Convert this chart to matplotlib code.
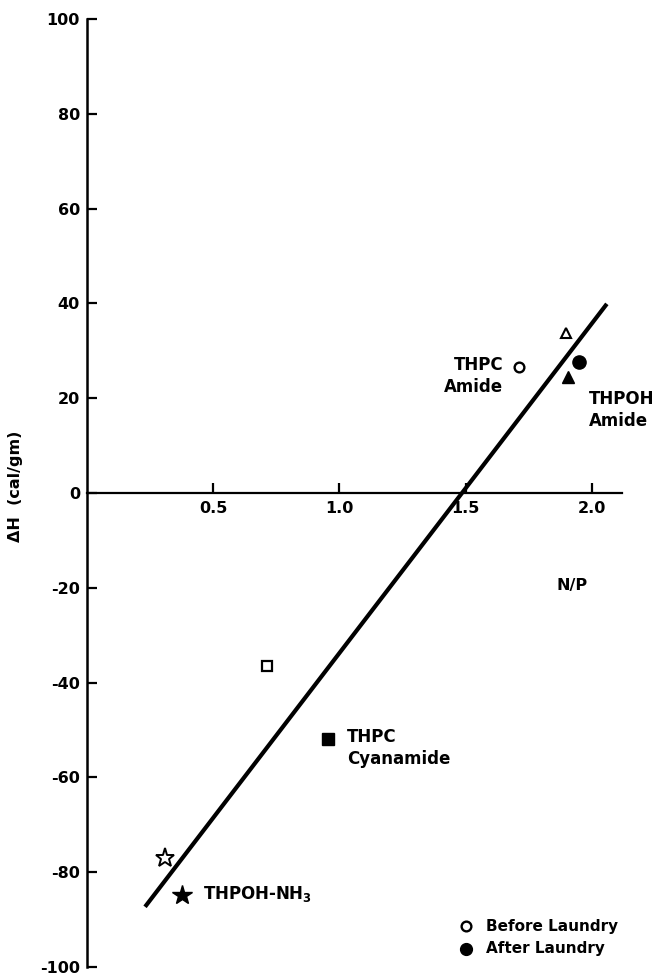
import matplotlib.pyplot as plt

# N/P ratio vs heat of reaction
open_circle_x = [1.71]
open_circle_y = [26.6]
filled_circle_x = [1.95]
filled_circle_y = [27.6]
open_tri_x = [1.90]
open_tri_y = [33.8]
filled_tri_x = [1.905]
filled_tri_y = [24.5]
open_sq_x = [0.714]
open_sq_y = [-36.5]
filled_sq_x = [0.956]
filled_sq_y = [-51.9]
open_star_x = [0.31]
open_star_y = [-77.0]
filled_star_x = [0.377]
filled_star_y = [-84.8]

# regression line end points
line_x = [0.23, 2.06]
line_y = [-87.3, 39.9]

xticks = [0.5, 1.0, 1.5, 2.0]
xticklabels = ["0.5", "1.0", "1.5", "2.0"]
yticks = [100, 80, 60, 40, 20, 0, -20, -40, -60, -80, -100]
yticklabels = ["100", "80", "60", "40", "20", "0", "-20", "-40", "-60", "-80", "-100"]

plt.rcParams['font.family'] = ['DejaVu Sans']
plt.rcParams['font.weight'] = 'bold'

W, H = 655, 976
fig = plt.figure(figsize=(W / 100, H / 100), dpi=100)
ax = fig.add_axes([87 / W, (H - 967) / H, (622 - 87) / W, (967 - 19) / H])
ax.set_xlim(0, 2.12)
ax.set_ylim(-100, 100)

for s in ['top', 'right']:
    ax.spines[s].set_visible(False)
ax.spines['bottom'].set_position(('data', 0))
ax.spines['left'].set_position(('data', 0))
ax.spines['bottom'].set_linewidth(1.6)
ax.spines['left'].set_linewidth(1.8)

ax.set_xticks(xticks)
ax.set_xticklabels(xticklabels, fontsize=11.5, fontweight='bold')
ax.set_yticks(yticks)
ax.set_yticklabels(yticklabels, fontsize=11.5, fontweight='bold')
ax.tick_params(axis='both', direction='in', length=7, width=1.6)
ax.tick_params(axis='y', pad=5)
ax.tick_params(axis='x', pad=6)

ax.plot(line_x, line_y, color='black', lw=3.0, solid_capstyle='butt')

mk = dict(color='black', linestyle='none', clip_on=False)
ax.plot(open_circle_x, open_circle_y, 'o', ms=7, mfc='white', mew=1.7, **mk)
ax.plot(filled_circle_x, filled_circle_y, 'o', ms=9.5, **mk)
ax.plot(open_tri_x, open_tri_y, '^', ms=7.5, mfc='white', mew=1.5, **mk)
ax.plot(filled_tri_x, filled_tri_y, '^', ms=8.5, **mk)
ax.plot(open_sq_x, open_sq_y, 's', ms=7.5, mfc='white', mew=1.6, **mk)
ax.plot(filled_sq_x, filled_sq_y, 's', ms=8, **mk)
ax.plot(open_star_x, open_star_y, '*', ms=14, mfc='white', mew=1.4, **mk)
ax.plot(filled_star_x, filled_star_y, '*', ms=15, **mk)

txt = dict(fontsize=12, fontweight='bold', va='center', linespacing=1.3)
ax.text(1.65, 24.7, "THPC\nAmide", ha='right', **txt)
ax.text(1.99, 17.5, "THPOH\nAmide", ha='left', clip_on=False, **txt)
ax.text(1.03, -53.8, "THPC\nCyanamide", ha='left', **txt)
ax.text(0.46, -84.6, "THPOH-NH$_\\mathbf{3}$", ha='left', **txt)
ax.text(1.86, -19.5, "N/P", ha='left', fontsize=11.5, fontweight='bold', va='center')

# legend as text entries
ax.plot([1.50], [-91.4], 'o', ms=7, mfc='white', mew=1.7, **mk)
ax.plot([1.50], [-96.2], 'o', ms=8.5, **mk)
ax.text(1.58, -91.4, "Before Laundry", ha='left', fontsize=11, fontweight='bold', va='center')
ax.text(1.58, -96.2, "After Laundry", ha='left', fontsize=11, fontweight='bold', va='center')

fig.text(16 / W, 1 - 486 / H, "ΔH  (cal/gm)", rotation=90, ha='center', va='center',
         fontsize=11.5, fontweight='bold')

fig.savefig("out.png", dpi=100)
